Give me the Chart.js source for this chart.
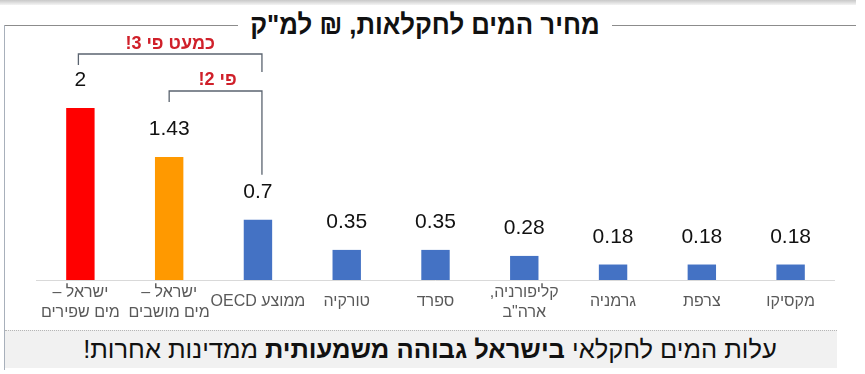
<!DOCTYPE html>
<html lang="he">
<head>
<meta charset="utf-8">
<script src="https://cdn.jsdelivr.net/npm/chart.js@4"></script>
<style>
  html, body { margin: 0; padding: 0; background: #fff; }
  #wrap { position: relative; width: 865px; height: 374px; overflow: hidden; font-family: "Liberation Sans", Arial, sans-serif; }
  #topbar { position: absolute; left: 0; top: 0; width: 856px; height: 5px; background: linear-gradient(#c8c8c8, #f4f4f4); }
  .rule { position: absolute; top: 25px; height: 0; border-top: 1.5px solid #8c8c8c; }
  #frameLeft { position: absolute; left: 4px; top: 25px; width: 0; height: 345px; border-left: 1.5px solid #a8b0bb; }
  #title { position: absolute; left: 225px; width: 400px; top: 9px; text-align: center; direction: rtl; white-space: nowrap;
           font-family: "Liberation Sans", sans-serif; font-weight: bold; font-size: 28px; color: #111;
           transform: scaleX(0.92); }
  #band { position: absolute; left: 5px; top: 330px; width: 832px; height: 37px; background: #f1f1f1; border-top: 1px dotted #b5b5b5; }
  #bottomText { position: absolute; left: 5px; width: 850px; top: 335px; text-align: center; direction: rtl;
                font-size: 25.5px; color: #111; white-space: nowrap; }
  canvas { position: absolute; left: 0; top: 0; }
</style>
</head>
<body>
<div id="wrap">
  <div id="topbar"></div>
  <div class="rule" style="left:4px;width:234px"></div>
  <div class="rule" style="left:612px;width:244px"></div>
  <div id="frameLeft"></div>
  <div id="title">מחיר המים לחקלאות, ₪ למ"ק</div>
  <div id="band"></div>
  <div id="bottomText">עלות המים לחקלאי <b>בישראל גבוהה משמעותית</b> ממדינות אחרות!</div>
  <canvas id="chart" width="865" height="374"></canvas>
</div>
<script>
// data
const categories = [
  ['ישראל –', 'מים שפירים'],
  ['ישראל –', 'מים מושבים'],
  ['ממוצע OECD'],
  ['טורקיה'],
  ['ספרד'],
  ['קליפורניה,', 'ארה"ב'],
  ['גרמניה'],
  ['צרפת'],
  ['מקסיקו']
];
const prices = [2, 1.43, 0.7, 0.35, 0.35, 0.28, 0.18, 0.18, 0.18];
const valueLabels = ['2', '1.43', '0.7', '0.35', '0.35', '0.28', '0.18', '0.18', '0.18'];
const barColors = ['#ff0000', '#ff9900', '#4472c4', '#4472c4', '#4472c4', '#4472c4', '#4472c4', '#4472c4', '#4472c4'];

// brackets: [fromIndex, toIndex, text]
const comparisons = [
  [0, 2, 'כמעט פי 3!'],
  [1, 2, 'פי 2!']
];

const overlay = {
  id: 'overlay',
  afterDatasetsDraw(chart) {
    const ctx = chart.ctx;
    const area = chart.chartArea;
    const x = chart.scales.x;
    const meta = chart.getDatasetMeta(0);

    ctx.save();
    // base line
    ctx.strokeStyle = '#d9d9d9';
    ctx.lineWidth = 1;
    ctx.beginPath();
    ctx.moveTo(area.left, area.bottom + 0.5);
    ctx.lineTo(area.right, area.bottom + 0.5);
    ctx.stroke();

    // value labels
    ctx.fillStyle = '#111';
    ctx.font = '21px "Liberation Sans", Arial, sans-serif';
    ctx.textAlign = 'center';
    ctx.textBaseline = 'alphabetic';
    meta.data.forEach((bar, i) => {
      ctx.fillText(valueLabels[i], bar.x, bar.y - 22);
    });

    // category labels
    ctx.fillStyle = '#595959';
    ctx.font = '16px "Liberation Sans", Arial, sans-serif';
    ctx.direction = 'rtl';
    ctx.textBaseline = 'middle';
    categories.forEach((lines, i) => {
      const cx = x.getPixelForValue(i);
      if (lines.length === 1) {
        ctx.fillText(lines[0], cx, area.bottom + 22);
      } else {
        ctx.fillText(lines[0], cx, area.bottom + 13);
        ctx.fillText(lines[1], cx, area.bottom + 33);
      }
    });

    // comparison brackets
    ctx.strokeStyle = '#5b6470';
    ctx.lineWidth = 1.3;
    const oecd = meta.data[2];
    const b1y = 54, b2y = 91;
    const x0 = meta.data[0].x - 2, x1 = meta.data[1].x, x2 = oecd.x + 4;
    ctx.beginPath();
    ctx.moveTo(x0, 65); ctx.lineTo(x0, b1y); ctx.lineTo(x2, b1y); ctx.lineTo(x2, 72);
    ctx.moveTo(x1, 102); ctx.lineTo(x1, b2y); ctx.lineTo(x2, b2y); ctx.lineTo(x2, oecd.y - 45);
    ctx.stroke();

    ctx.fillStyle = '#d0202a';
    ctx.font = 'bold 18px "Liberation Sans", Arial, sans-serif';
    ctx.textBaseline = 'alphabetic';
    ctx.fillText(comparisons[0][2], (x0 + x2) / 2, b1y - 5);
    ctx.fillText(comparisons[1][2], (x1 + x2) / 2 + 2, b2y - 6);
    ctx.restore();
  }
};

new Chart(document.getElementById('chart'), {
  type: 'bar',
  data: {
    labels: categories,
    datasets: [{
      data: prices,
      backgroundColor: barColors,
      barPercentage: 0.32,
      categoryPercentage: 1
    }]
  },
  options: {
    responsive: false,
    animation: false,
    layout: { padding: { left: 36, right: 30, top: 65, bottom: 94 } },
    plugins: { legend: { display: false }, tooltip: { enabled: false } },
    scales: {
      x: { display: false },
      y: { display: false, min: 0, max: 2.5 }
    }
  },
  plugins: [overlay]
});
</script>
</body>
</html>
